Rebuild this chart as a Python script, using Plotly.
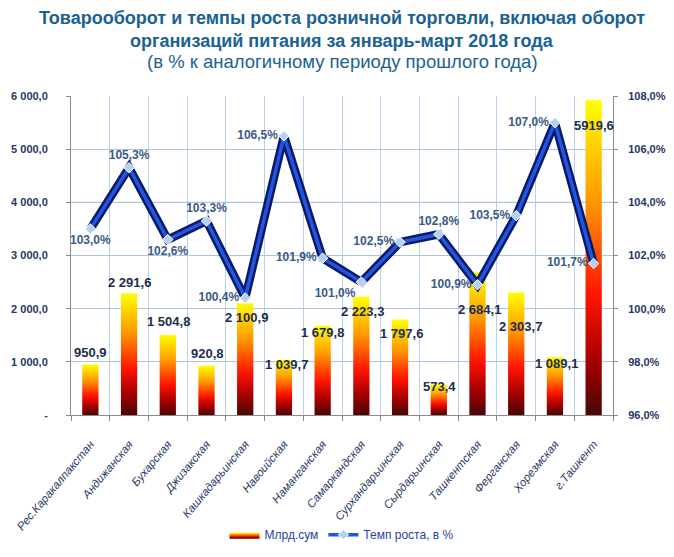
import plotly.graph_objects as go

# ---------------- data ----------------
categories = ["Рес.Каракалпакстан", "Андижанская", "Бухарская", "Джизакская",
              "Кашкадарьинская", "Навоийская", "Наманганская", "Самаркандская",
              "Сурхандарьинская", "Сырдарьинская", "Ташкентская", "Ферганская",
              "Хорезмская", "г.Ташкент"]
turnover = [950.9, 2291.6, 1504.8, 920.8, 2100.9, 1039.7, 1679.8, 2223.3,
            1797.6, 573.4, 2684.1, 2303.7, 1089.1, 5919.6]
turnover_labels = ["950,9", "2 291,6", "1 504,8", "920,8", "2 100,9", "1 039,7",
                   "1 679,8", "2 223,3", "1 797,6", "573,4", "2 684,1", "2 303,7",
                   "1 089,1", "5919,6"]
growth = [103.0, 105.3, 102.6, 103.3, 100.4, 106.5, 101.9, 101.0, 102.5,
          102.8, 100.9, 103.5, 107.0, 101.7]
growth_labels = ["103,0%", "105,3%", "102,6%", "103,3%", "100,4%", "106,5%",
                 "101,9%", "101,0%", "102,5%", "102,8%", "100,9%", "103,5%",
                 "107,0%", "101,7%"]
left_ticks = [0, 1000, 2000, 3000, 4000, 5000, 6000]
left_ticktext = ["-", "1 000,0", "2 000,0", "3 000,0", "4 000,0", "5 000,0", "6 000,0"]
right_ticks = [96, 98, 100, 102, 104, 106, 108]
right_ticktext = ["96,0%", "98,0%", "100,0%", "102,0%", "104,0%", "106,0%", "108,0%"]
title_lines = ["Товарооборот и темпы роста розничной торговли, включая оборот",
               "организаций питания за январь-март 2018 года",
               "(в % к аналогичному периоду прошлого года)"]

# ---------------- styles ----------------
bar_half = 0.21
bar_label_yshift = [12, 11, 13, 13, -14, -5, -7, -15, -14, -2, -37, -34, -6, -25]
bar_label_xshift = [0, 0, 1, 1, 1, 3, 0, 1, 1, 1, 2, 4, 2, 0]
growth_textpos = ["bottom center", "top center", "bottom center", "top center",
                  "middle left", "middle left", "middle left", "bottom left",
                  "middle left", "top center", "middle left", "middle left",
                  "middle left", "middle left"]
bar_scale = [[0.0, "#4a0606"], [0.18, "#a80000"], [0.38, "#ff1400"],
             [0.68, "#ff9800"], [1.0, "#ffff00"]]
navy = "#1f3864"
title_y = [1.2445, 1.1724, 1.1066]
title_bold = [True, True, False]
title_size = [18, 18, 18.5]

fig = go.Figure()

xs_idx = list(range(len(categories)))

# gradient bars
for i, v in enumerate(turnover):
    fig.add_trace(go.Scatter(
        x=[i - bar_half, i + bar_half, i + bar_half, i - bar_half, i - bar_half],
        y=[0, 0, v, v, 0],
        mode="lines", fill="toself",
        line=dict(width=0, color="rgba(0,0,0,0)"),
        fillgradient=dict(type="vertical", colorscale=bar_scale),
        name="Млрд.сум", legendgroup="bars", showlegend=(i == 0),
        hoverinfo="skip", yaxis="y"))

# bar labels
for i, (v, t) in enumerate(zip(turnover, turnover_labels)):
    fig.add_annotation(x=i, y=v, xref="x", yref="y", text=f"<b>{t}</b>",
                       showarrow=False, yshift=bar_label_yshift[i],
                       xshift=bar_label_xshift[i],
                       font=dict(family="Liberation Sans, Arial", size=13, color="#1c2d4d"))

# growth line (outer dark, inner bright)
fig.add_trace(go.Scatter(x=xs_idx, y=growth, yaxis="y2", mode="lines",
                         line=dict(color="#0b1a66", width=8.5), showlegend=False,
                         hoverinfo="skip"))
fig.add_trace(go.Scatter(x=xs_idx, y=growth, yaxis="y2", mode="lines+markers+text",
                         line=dict(color="#2256e0", width=3.5),
                         marker=dict(symbol="diamond", size=8, color="#b4d0f4",
                                     line=dict(color="#ffffff", width=1)),
                         text=growth_labels, textposition=growth_textpos,
                         textfont=dict(family="Liberation Sans, Arial", size=12,
                                       color="#3b5a85", weight="bold"),
                         name="Темп роста, в %"))

# purple grid lines
for yv in [3000, 4000]:
    fig.add_shape(type="line", xref="paper", yref="y", x0=0, x1=1, y0=yv, y1=yv,
                  line=dict(color="#c49ad6", width=1), layer="below")

# title lines
for t, yy, b, s in zip(title_lines, title_y, title_bold, title_size):
    fig.add_annotation(xref="paper", yref="paper", x=0.5, y=yy, xanchor="center",
                       yanchor="middle", showarrow=False,
                       text=f"<b>{t}</b>" if b else t,
                       font=dict(family="Liberation Sans, Arial", size=s, color="#1a6294"))

fig.update_layout(
    width=674, height=557,
    margin=dict(l=71, r=61, t=96, b=142, autoexpand=False),
    paper_bgcolor="white", plot_bgcolor="white",
    font=dict(family="Liberation Sans, Arial", color=navy),
    xaxis=dict(range=[-0.5, len(categories) - 0.5], tickvals=xs_idx,
               ticktext=categories, tickangle=-50, showgrid=False, ticks="",
               ticklabelstandoff=17, automargin=False,
               tickfont=dict(family="Liberation Sans, Arial", size=11.5, color=navy,
                             style="italic"),
               showline=True, linecolor="#8a8a8a", linewidth=1, zeroline=False,
               minor=dict(tick0=-0.5, dtick=1, showgrid=True, gridcolor="#b7cfec",
                          ticks="outside", ticklen=5, tickcolor="#8a8a8a")),
    yaxis=dict(range=[0, 6000], tickvals=left_ticks, ticktext=left_ticktext,
               showgrid=True, gridcolor="#a9c6e8", zeroline=False, automargin=False,
               showline=True, linecolor="#8a8a8a", ticks="outside", ticklen=4,
               tickcolor="#8a8a8a", ticklabelstandoff=16,
               tickfont=dict(size=11, color=navy, weight="bold")),
    yaxis2=dict(range=[96, 108], tickvals=right_ticks, ticktext=right_ticktext,
                overlaying="y", side="right", showgrid=False, zeroline=False,
                automargin=False,
                showline=True, linecolor="#8a8a8a", ticks="outside", ticklen=4,
                tickcolor="#8a8a8a", ticklabelstandoff=8,
                tickfont=dict(size=11, color=navy, weight="bold")),
    legend=dict(orientation="h", x=0.5, xanchor="center", y=-0.375, yanchor="middle",
                font=dict(family="Liberation Sans, Arial", size=12, color="#2a3fa0")),
    showlegend=True,
)

fig.write_html("out.html", config={"displayModeBar": False},
               post_script="document.body.style.margin='0';")
